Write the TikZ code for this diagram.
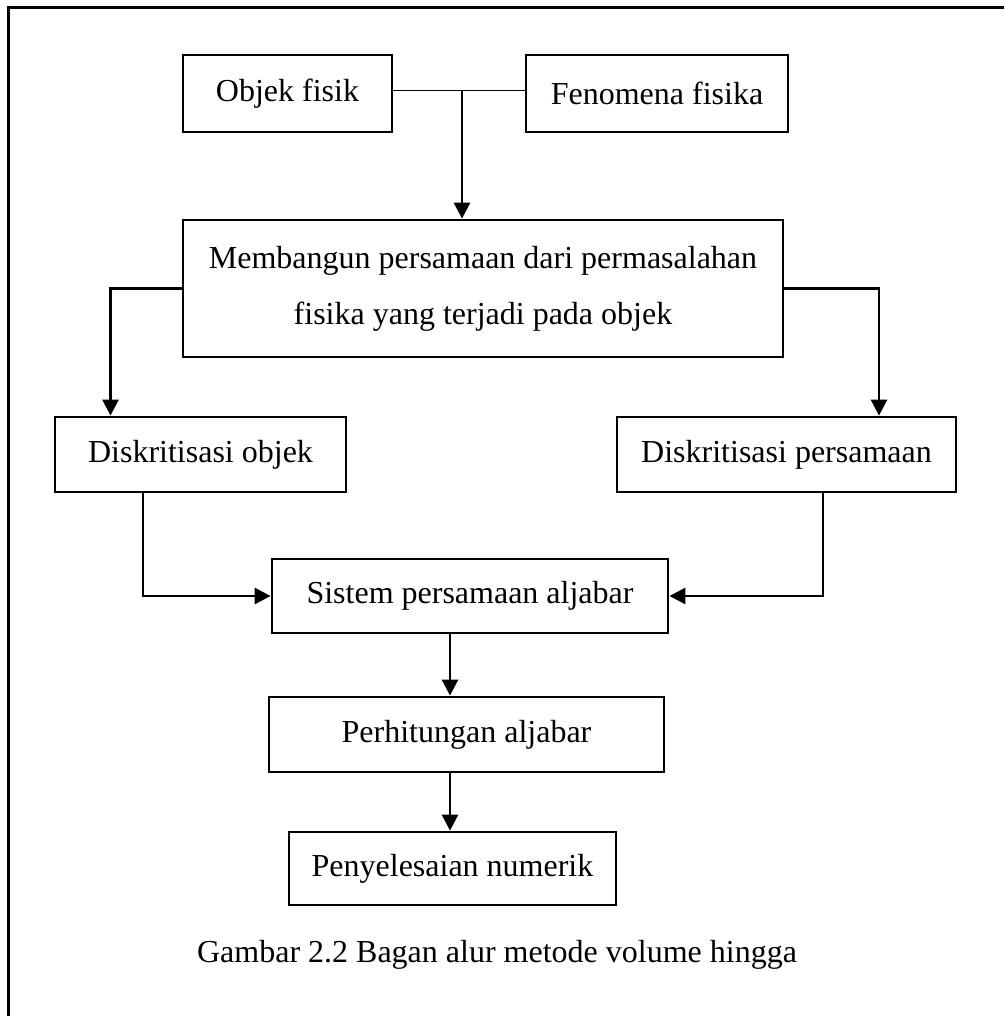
\documentclass[tikz,border=0pt]{standalone}
\usepackage{fontspec}
\setmainfont{Liberation Serif}
\usetikzlibrary{arrows.meta,positioning}

\tikzset{
  kotak/.style={draw, line width=2.8pt, inner sep=0pt, align=center,
    font=\fontsize{32}{56}\selectfont},
  panah/.style={->, line width=2.8pt},
}

\begin{document}
\begin{tikzpicture}[x=1pt, y=-1pt, >={Triangle[length=16pt,width=16pt]}]
  \useasboundingbox (0,0) rectangle (1004,1016);
  % frame, only left and top
  \draw[line width=3pt] (8,1016) -- (8,8) -- (1004,8);

  % top row
  \node[kotak, minimum width=209pt, minimum height=77pt] (objek) at (287.5,93.5) {Objek fisik};
  \node[kotak, minimum width=262pt, minimum height=77pt] (fenomena) at (657,93.5) {Fenomena fisika};
  \coordinate (gabung) at (462,91);
  \draw[line width=1pt] (objek.east |- gabung) -- (fenomena.west |- gabung);

  % persamaan
  \node[kotak, minimum width=600pt, minimum height=137pt] (membangun) at (483,288.5)
    {Membangun persamaan dari permasalahan\\fisika yang terjadi pada objek};
  \draw[panah] (gabung) -- (gabung |- membangun.north);

  % diskritisasi
  \node[kotak, minimum width=291pt, minimum height=75pt] (diskobj) at (200.5,454.5) {Diskritisasi objek};
  \node[kotak, minimum width=339pt, minimum height=75pt] (diskpers) at (786.5,454.5) {Diskritisasi persamaan};
  \draw[panah] (membangun.west) -| ([xshift=-90pt]diskobj.north);
  \draw[panah] (membangun.east) -| ([xshift=92.5pt]diskpers.north);

  % aljabar
  \node[kotak, minimum width=396pt, minimum height=74pt] (sistem) at (470,596) {Sistem persamaan aljabar};
  \draw[panah] ([xshift=-57.5pt]diskobj.south) |- (sistem.west);
  \draw[panah] ([xshift=36.5pt]diskpers.south) |- (sistem.east);

  \node[kotak, minimum width=395pt, minimum height=75pt] (hitung) at (466.5,734.5) {Perhitungan aljabar};
  \draw[panah] ([xshift=-20pt]sistem.south) -- ([xshift=-16.5pt]hitung.north);

  \node[kotak, minimum width=327pt, minimum height=73pt] (penyelesaian) at (452.5,868.5) {Penyelesaian numerik};
  \draw[panah] ([xshift=-16.5pt]hitung.south) -- ([xshift=-2.5pt]penyelesaian.north);

  % caption
  \node[font=\fontsize{32}{38}\selectfont] (judul) at (497,955) {Gambar 2.2 Bagan alur metode volume hingga};
\end{tikzpicture}
\end{document}
